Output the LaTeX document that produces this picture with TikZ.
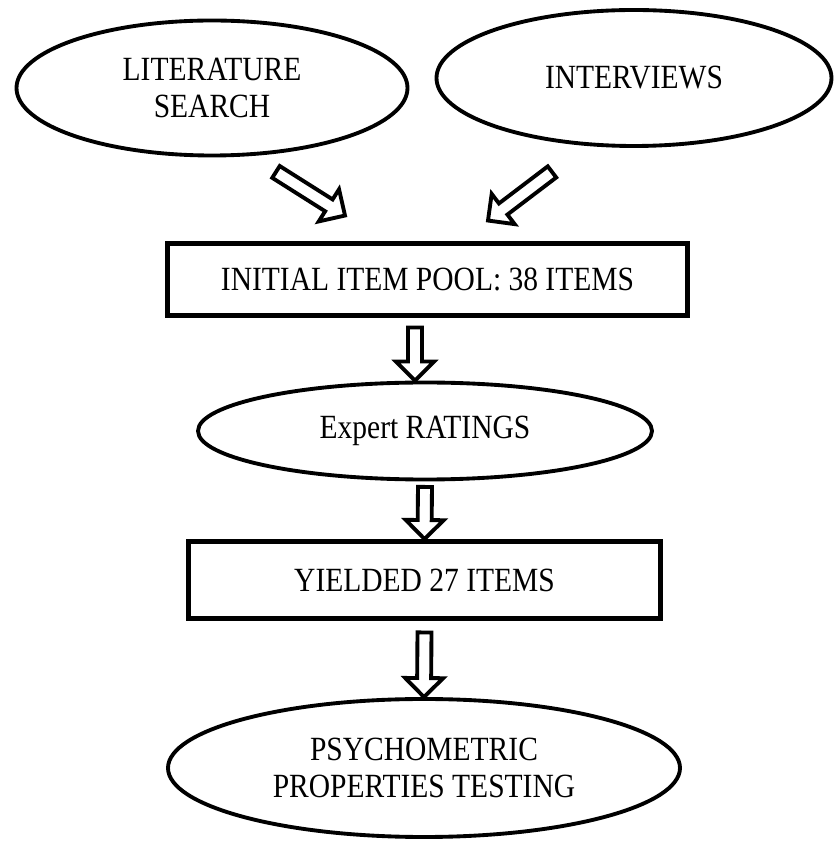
\documentclass[tikz,border=0pt]{standalone}
\usepackage{fontspec}
\setmainfont{Liberation Serif}[FakeStretch=0.87]
\usetikzlibrary{shapes.geometric, calc}
\newcommand{\flowfont}{\fontsize{19.3pt}{21pt}\selectfont}
\tikzset{
    oval/.style={ellipse, draw, line width=2.2pt, align=center, font=\flowfont, inner sep=0pt},
    itembox/.style={rectangle, draw, line width=2.8pt, align=center, font=\flowfont},
    hollow/.style={draw, line width=2.2pt, line join=miter, fill=white,
        to path={let \p1 = (\tikztostart), \p2 = (\tikztotarget),
            \n1 = {atan2(\y2 - \y1, \x2 - \x1)}, \n2 = {veclen(\x2 - \x1, \y2 - \y1)} in
            ($(\p1) + (\n1 - 90:1.4mm)$) -- ++(\n1:\n2 - 3.8mm) -- ++(\n1 - 90:2.4mm)
            -- (\p2) -- ($(\p1) + (\n1:\n2 - 3.8mm) + (\n1 + 90:3.8mm)$)
            -- ++(\n1 - 90:2.4mm) -- ($(\p1) + (\n1 + 90:1.4mm)$) -- cycle}}
}
\begin{document}
\begin{tikzpicture}
            %\draw[lightgray] (0, 0) grid (17, 17);
            \useasboundingbox (0, 0) rectangle (16.68, 16.82);
            \node[oval, minimum width=7.82cm, minimum height=2.7cm] (lit) at (4.24, 15.06) {LITERATURE\\SEARCH};
            \node[oval, minimum width=7.9cm, minimum height=2.72cm] (intv) at (12.68, 15.26) {INTERVIEWS};
            \node[itembox, minimum width=10.4cm, minimum height=1.44cm] (pool) at (8.55, 11.23) {INITIAL ITEM POOL: 38 ITEMS};
            \node[oval, minimum width=9.08cm, minimum height=1.94cm] (rate) at (8.5, 8.2) {Expert RATINGS};
            \node[itembox, minimum width=9.44cm, minimum height=1.54cm] (yield) at (8.49, 5.22) {YIELDED 27 ITEMS};
            \node[oval, minimum width=10.24cm, minimum height=2.76cm] (psych) at (8.48, 1.46) {PSYCHOMETRIC\\PROPERTIES TESTING};
            \draw[hollow] ([shift={(1.28, -0.29)}]lit.south) to ([shift={(-1.65, 0.51)}]pool.north);
            \draw[hollow] ([shift={(-1.64, -0.48)}]intv.south) to ([shift={(1.21, 0.41)}]pool.north);
            \draw[hollow] ([shift={(-0.25, -0.19)}]pool.south) to ([xshift=-0.2cm]rate.north);
            \draw[hollow] ([yshift=-0.11cm]rate.south) to (yield.north);
            \draw[hollow] ([yshift=-0.23cm]yield.south) to (psych.north);
        \end{tikzpicture}
\end{document}
